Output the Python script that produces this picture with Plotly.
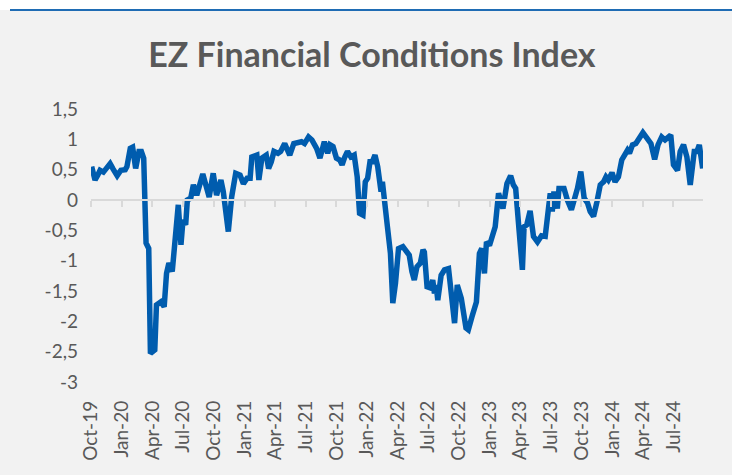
import plotly.graph_objects as go

# Weekly-ish readings of the EZ Financial Conditions Index
dates = [
    "2019-10-03", "2019-10-13", "2019-10-21", "2019-10-28", "2019-11-07", "2019-11-17", "2019-11-27",
    "2019-12-06", "2019-12-18", "2019-12-29",
    "2020-01-11", "2020-01-16", "2020-01-26", "2020-02-02", "2020-02-11", "2020-02-21", "2020-02-28",
    "2020-03-06", "2020-03-13", "2020-03-21", "2020-03-26", "2020-04-08", "2020-04-13", "2020-04-26",
    "2020-05-06", "2020-05-13", "2020-05-20", "2020-05-30", "2020-06-07", "2020-06-17", "2020-06-25",
    "2020-07-01", "2020-07-09", "2020-07-14", "2020-07-24", "2020-08-01", "2020-08-11", "2020-08-29",
    "2020-09-17", "2020-09-29", "2020-10-09", "2020-10-22", "2020-10-29", "2020-11-13", "2020-11-23",
    "2020-12-05", "2020-12-18", "2020-12-28",
    "2021-01-08", "2021-01-17", "2021-01-22", "2021-02-06", "2021-02-12", "2021-02-21", "2021-03-06",
    "2021-03-13", "2021-03-21", "2021-03-29", "2021-04-10", "2021-04-18", "2021-04-30", "2021-05-15",
    "2021-05-27", "2021-06-09", "2021-06-19", "2021-06-28", "2021-07-10", "2021-07-20", "2021-08-03",
    "2021-08-13", "2021-08-26", "2021-09-05", "2021-09-12", "2021-09-21", "2021-10-01", "2021-10-11",
    "2021-10-18", "2021-10-26", "2021-11-03", "2021-11-13", "2021-11-23", "2021-12-02", "2021-12-09",
    "2021-12-19", "2021-12-26",
    "2022-01-02", "2022-01-09", "2022-01-16", "2022-01-24", "2022-02-01", "2022-02-11", "2022-02-15",
    "2022-02-19", "2022-03-02", "2022-03-11", "2022-03-18", "2022-03-26", "2022-04-04", "2022-04-17",
    "2022-04-26", "2022-05-06", "2022-05-14", "2022-05-21", "2022-05-29", "2022-06-08", "2022-06-16",
    "2022-06-20", "2022-06-28", "2022-07-08", "2022-07-15", "2022-07-20", "2022-07-25", "2022-07-30",
    "2022-08-09", "2022-08-19", "2022-08-31", "2022-09-03", "2022-09-18", "2022-09-26", "2022-10-08",
    "2022-10-22", "2022-10-29", "2022-11-09", "2022-11-22", "2022-12-01", "2022-12-08", "2022-12-16",
    "2022-12-22", "2022-12-31",
    "2023-01-10", "2023-01-17", "2023-01-27", "2023-02-09", "2023-02-21", "2023-03-04", "2023-03-12",
    "2023-03-19", "2023-03-29", "2023-04-08", "2023-04-13", "2023-04-21", "2023-05-01", "2023-05-11",
    "2023-05-23", "2023-06-04", "2023-06-15", "2023-06-22", "2023-06-30", "2023-07-06", "2023-07-11",
    "2023-07-21", "2023-07-26", "2023-08-02", "2023-08-10", "2023-08-20", "2023-09-01", "2023-09-19",
    "2023-09-29", "2023-10-09", "2023-10-19", "2023-10-27", "2023-11-06", "2023-11-16", "2023-11-26",
    "2023-12-06", "2023-12-13", "2023-12-20", "2023-12-31",
    "2024-01-09", "2024-01-19", "2024-01-29", "2024-02-08", "2024-02-15", "2024-02-21", "2024-03-01",
    "2024-03-11", "2024-03-20", "2024-04-01", "2024-04-13", "2024-04-25", "2024-05-06", "2024-05-16",
    "2024-05-27", "2024-06-06", "2024-06-23", "2024-07-01", "2024-07-13", "2024-07-21", "2024-07-31",
    "2024-08-10", "2024-08-20", "2024-09-01", "2024-09-09", "2024-09-16", "2024-09-26",
]

fci = [
    0.55, 0.33, 0.41, 0.49, 0.46, 0.55, 0.60,
    0.51, 0.40, 0.49,
    0.50, 0.55, 0.85, 0.87, 0.52, 0.80, 0.80,
    0.69, -0.71, -0.80, -2.53, -2.47, -1.73, -1.68,
    -1.76, -1.21, -1.04, -1.18, -0.77, -0.08, -0.74,
    -0.33, -0.41, 0.00, 0.03, 0.25, 0.08, 0.43,
    0.05, 0.44, 0.08, 0.33, 0.14, -0.52, 0.05,
    0.44, 0.41, 0.27,
    0.36, 0.36, 0.71, 0.74, 0.33, 0.69, 0.74,
    0.52, 0.63, 0.80, 0.77, 0.80, 0.93, 0.74,
    0.93, 0.96, 0.96, 0.93, 1.04, 0.99, 0.85,
    0.69, 0.96, 0.77, 0.91, 0.88, 0.69, 0.66,
    0.58, 0.71, 0.80, 0.71, 0.74, 0.38, -0.22,
    -0.25, 0.30,
    0.36, 0.63, 0.63, 0.74, 0.55, 0.14, 0.30,
    0.14, -0.44, -0.88, -1.70, -1.37, -0.80, -0.77,
    -0.85, -0.91, -1.18, -1.32, -1.10, -1.04, -0.82,
    -0.86, -1.43, -1.45, -1.32, -1.54, -1.40, -1.65,
    -1.24, -1.15, -1.13, -1.26, -2.03, -1.40, -1.62,
    -2.11, -2.14, -1.92, -1.68, -0.88, -0.80, -1.21,
    -0.69, -0.75,
    -0.52, -0.44, 0.11, -0.14, 0.27, 0.40, 0.25,
    0.19, -0.49, -1.15, -0.44, -0.41, -0.18, -0.60,
    -0.69, -0.59, -0.60, -0.16, 0.11, -0.19, 0.14,
    -0.14, 0.19, 0.19, 0.19, 0.00, -0.16, 0.19,
    0.47, 0.03, -0.05, -0.19, -0.27, -0.03, 0.25,
    0.30, 0.38, 0.33, 0.45,
    0.30, 0.38, 0.66, 0.74, 0.82, 0.77, 0.91,
    0.93, 1.02, 1.11, 1.02, 0.93, 0.67, 0.91,
    1.04, 0.99, 1.07, 0.58, 0.49, 0.80, 0.91,
    0.71, 0.25, 0.80, 0.80, 0.91, 0.52,
]

y_tickvals = [1.5, 1, 0.5, 0, -0.5, -1, -1.5, -2, -2.5, -3]
y_ticktext = ["1,5", "1", "0,5", "0", "-0,5", "-1", "-1,5", "-2", "-2,5", "-3"]

title_text = "EZ Financial Conditions Index"

GRAY_TXT = "#595959"
AXIS_GRAY = "#d9d9d9"
LINE_BLUE = "#005cae"

fig = go.Figure()
fig.add_trace(go.Scatter(
    x=dates, y=fci, mode="lines",
    line=dict(color=LINE_BLUE, width=5.5),
    hoverinfo="skip", showlegend=False, cliponaxis=False,
))
# invisible trace on the overlay axis (zero line with tick marks)
fig.add_trace(go.Scatter(
    x=[dates[0]], y=[0], xaxis="x2", mode="lines",
    line=dict(width=0), hoverinfo="skip", showlegend=False,
))

x_range = ["2019-10-01", "2024-09-27"]

fig.update_layout(
    width=732, height=475,
    paper_bgcolor="#f2f2f2", plot_bgcolor="#f2f2f2",
    margin=dict(l=91, r=29, t=109, b=93, autoexpand=False),
    title=dict(
        text="<b>" + title_text + "</b>",
        x=0.508, xanchor="center", y=1 - 55 / 475, yanchor="middle",
        font=dict(family="Lato", size=34, color=GRAY_TXT),
    ),
    xaxis=dict(
        type="date", range=x_range,
        tick0="2019-10-01", dtick="M3", tickformat="%b-%y",
        tickangle=-90, ticks="", showline=False, showgrid=False, zeroline=False,
        ticklabelstandoff=14,
        tickfont=dict(family="Lato", size=19, color=GRAY_TXT),
    ),
    xaxis2=dict(
        type="date", range=x_range, overlaying="x", anchor="free", position=2 / 3,
        tick0="2019-10-01", dtick="M3",
        showline=True, linecolor=AXIS_GRAY, linewidth=2,
        ticks="outside", ticklen=6, tickwidth=2, tickcolor=AXIS_GRAY,
        showticklabels=False, showgrid=False, zeroline=False,
    ),
    yaxis=dict(
        range=[-3, 1.5], tickvals=y_tickvals, ticktext=y_ticktext,
        showgrid=False, zeroline=False, showline=False, ticks="",
        ticklabelstandoff=12,
        tickfont=dict(family="Lato", size=19, color=GRAY_TXT),
    ),
    shapes=[
        dict(type="rect", xref="paper", yref="paper", x0=-1, x1=2,
             y0=(382 - 10) / 273, y1=(382 + 5) / 273,
             fillcolor="white", line=dict(width=0), layer="below"),
        dict(type="line", xref="paper", yref="paper",
             x0=(10 - 91) / 612, x1=(732 - 91) / 612,
             y0=(382 - 10) / 273, y1=(382 - 10) / 273,
             line=dict(color="#1f6cb4", width=2)),
    ],
)

fig.write_html(
    "out.html",
    config={"displayModeBar": False},
    post_script="document.body.style.margin='0px';document.body.style.overflow='hidden';",
)
